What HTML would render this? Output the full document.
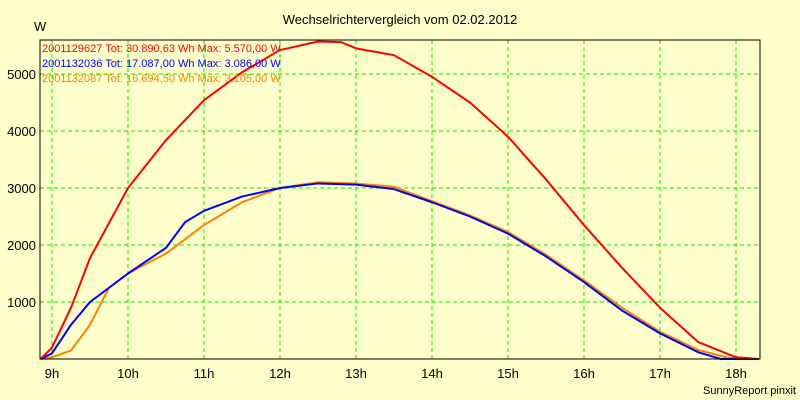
<!DOCTYPE html>
<html><head><meta charset="utf-8"><style>
body{margin:0;background:#ffffcc;}
svg{display:block;font-family:"Liberation Sans",sans-serif;}
</style></head><body>
<svg width="800" height="400" id="c">
<rect width="800" height="400" fill="#ffffcc"/>
<text x="400" y="24" text-anchor="middle" font-size="13">Wechselrichtervergleich vom 02.02.2012</text>
<text x="34" y="31" font-size="13">W</text>
<text x="796" y="394" text-anchor="end" font-size="11">SunnyReport pinxit</text>
<g id="grid"></g><g id="lines"></g><g id="ticks"></g>
<rect x="40" y="40" width="720" height="319" fill="none" stroke="#000"/>
<g font-size="11">
<text x="42" y="52" fill="#ff0000">2001129627 Tot: 30.890,63 Wh Max: 5.570,00 W</text>
<text x="42" y="67" fill="#0000ff">2001132036 Tot: 17.087,00 Wh Max: 3.086,00 W</text>
<text x="42" y="82" fill="#ff8000">2001132087 Tot: 16.694,50 Wh Max: 3.105,00 W</text>
</g>
</svg>
<script>
const hours=[9,10,11,12,13,14,15,16,17,18];
const yTicks=[1000,2000,3000,4000,5000];
const redT=[8.85,9,9.25,9.5,10,10.5,11,11.5,12,12.5,12.8,13,13.5,14,14.5,15,15.5,16,16.5,17,17.5,18,18.3];
const redV=[0,200,900,1770,3000,3840,4540,5030,5420,5570,5560,5450,5330,4950,4500,3900,3150,2350,1600,900,300,30,0];
const blueT=[8.85,9,9.25,9.5,10,10.5,10.75,11,11.5,12,12.5,13,13.5,14,14.5,15,15.5,16,16.5,17,17.5,17.8,18.3];
const blueV=[0,100,600,1000,1500,1950,2400,2600,2850,3000,3080,3060,2980,2750,2500,2200,1800,1350,850,450,120,0,0];
const orT=[8.85,9,9.25,9.5,9.75,10,10.5,10.75,11,11.5,12,12.5,13,13.5,14,14.5,15,15.5,16,16.5,17,17.5,17.9,18.3];
const orV=[0,30,150,600,1250,1500,1850,2100,2350,2750,3000,3100,3080,3020,2770,2520,2230,1830,1380,900,480,160,20,0];
const X=h=>52+(h-9)*76, Y=v=>359-v*0.057;
const NS="http://www.w3.org/2000/svg";
const g=document.getElementById('grid'),t=document.getElementById('ticks'),L=document.getElementById('lines');
function mk(tag,a,p){const e=document.createElementNS(NS,tag);for(const k in a)e.setAttribute(k,a[k]);p.appendChild(e);return e;}
hours.forEach(h=>{
 const l=mk('line',{x1:X(h),x2:X(h),y1:40,y2:359,stroke:'#00ee00','stroke-dasharray':'4,3'},g);
 
 
 const s=mk('text',{x:X(h),y:378,'text-anchor':'middle','font-size':'13'},t);s.textContent=h+'h';
 
 
});
yTicks.forEach(v=>{
 const l=mk('line',{x1:40,x2:760,y1:Y(v),y2:Y(v),stroke:'#00ee00','stroke-dasharray':'4,3'},g);
 
 
 const s=mk('text',{x:36,y:Y(v)+5,'text-anchor':'end','font-size':'13'},t);s.textContent=v;
 
 
});
[[orT,orV,'#ff8000','series-2001132087'],[blueT,blueV,'#0000ff','series-2001132036'],[redT,redV,'#ff0000','series-2001129627']].forEach(([T,V,c,n])=>{
 const p=mk('polyline',{points:T.map((h,i)=>X(h)+','+Y(V[i])).join(' '),fill:'none',stroke:c,'stroke-width':2,'stroke-linejoin':'round'},L);
 
 
});
</script>
</body></html>
